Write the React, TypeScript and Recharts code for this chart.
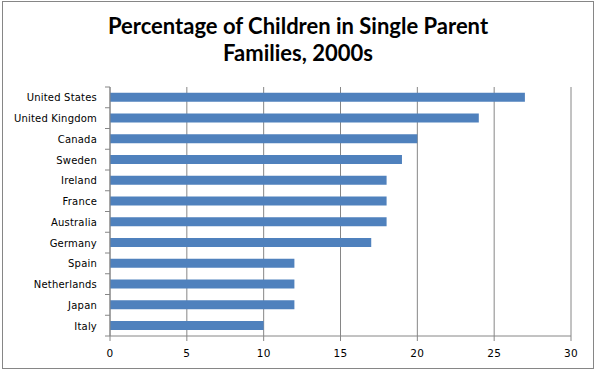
import { Bar, BarChart, CartesianGrid, XAxis, YAxis } from "recharts";

const countries = [
  "United States",
  "United Kingdom",
  "Canada",
  "Sweden",
  "Ireland",
  "France",
  "Australia",
  "Germany",
  "Spain",
  "Netherlands",
  "Japan",
  "Italy",
];
const percentages = [27, 24, 20, 19, 18, 18, 18, 17, 12, 12, 12, 10];
const xTicks = [0, 5, 10, 15, 20, 25, 30];

const data = countries.map((country, i) => ({ country, value: percentages[i] }));

const PLOT_TOP = 87;
const PLOT_BOTTOM = 336;
const band = (PLOT_BOTTOM - PLOT_TOP) / countries.length;

function CountryTick(props: any) {
  const { x, y, payload, index } = props;
  const isLast = index === countries.length - 1;
  return (
    <g>
      <line x1={x + 3} x2={x + 8} y1={y - band / 2} y2={y - band / 2} stroke="#868686" />
      {isLast && <line x1={x + 3} x2={x + 8} y1={y + band / 2} y2={y + band / 2} stroke="#868686" />}
      <text x={x - 5} y={y} dy={4} textAnchor="end" fontSize={10} fill="#000" fontFamily="DejaVu Sans" letterSpacing={0.2}>
        {payload.value}
      </text>
    </g>
  );
}

function ValueTick(props: any) {
  const { x, payload } = props;
  return (
    <text x={x} y={PLOT_BOTTOM + 21} textAnchor="middle" fontSize={10.5} fill="#000" fontFamily="DejaVu Sans" letterSpacing={0.3}>
      {payload.value}
    </text>
  );
}

export default function App() {
  return (
    <div style={{ position: "absolute", left: 0, top: 0, width: 596, height: 373, background: "#fff" }}>
      <div
        style={{
          position: "absolute",
          left: 2,
          top: 1,
          width: 590,
          height: 366,
          border: "1px solid #868686",
        }}
      />
      <div
        style={{
          position: "absolute",
          left: 0,
          top: 12,
          width: 596,
          textAlign: "center",
          fontFamily: "Lato, sans-serif",
          fontWeight: "bold",
          fontSize: 22,
          lineHeight: "27px",
          color: "#000",
        }}
      >
        Percentage of Children in Single Parent
        <br />
        Families, 2000s
      </div>
      <div style={{ position: "absolute", left: 0, top: 0 }}>
        <BarChart
          width={596}
          height={373}
          data={data}
          layout="vertical"
          margin={{ top: PLOT_TOP, right: 25, bottom: 12, left: 0 }}
          barCategoryGap="28%"
        >
          <CartesianGrid horizontal={false} stroke="#868686" strokeWidth={1} />
          <XAxis
            type="number"
            domain={[0, 30]}
            ticks={xTicks}
            interval={0}
            height={25}
            axisLine={{ stroke: "#868686" }}
            tickLine={{ stroke: "#868686" }}
            tickSize={5}
            tick={<ValueTick />}
          />
          <YAxis
            type="category"
            dataKey="country"
            width={110}
            interval={0}
            axisLine={{ stroke: "#868686" }}
            tickLine={false}
            tick={<CountryTick />}
          />
          <Bar dataKey="value" fill="#4f81bd" isAnimationActive={false} />
        </BarChart>
      </div>
    </div>
  );
}
